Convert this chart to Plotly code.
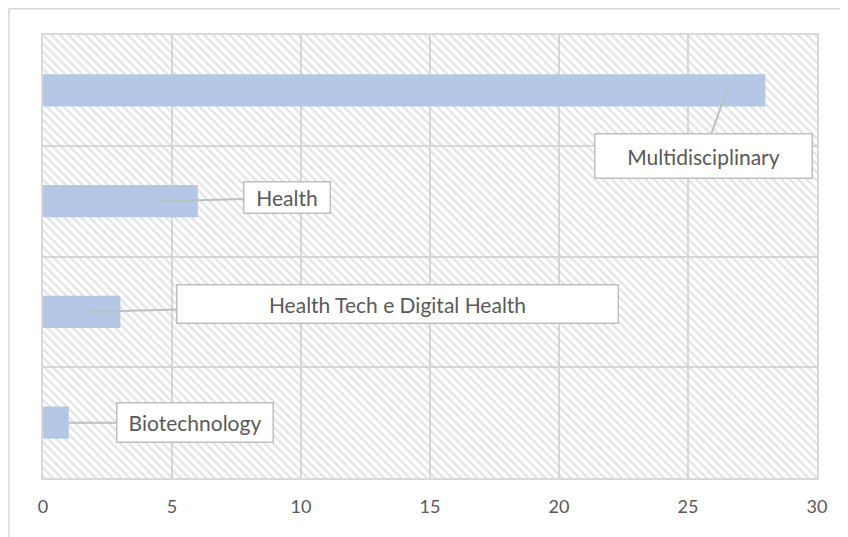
import plotly.graph_objects as go

# Data (bottom to top on the category axis)
categories = ["Biotechnology", "Health Tech e Digital Health", "Health", "Multidisciplinary"]
values = [1, 3, 6, 28]
x_ticks = [0, 5, 10, 15, 20, 25, 30]

# Callout label positions (box centre in data coords) and leader-line targets
label_x = [5.9, 13.75, 9.45, 25.6]
label_y = [0.0, 1.07, 2.03, 2.41]
point_x = [1.0, 1.55, 4.55, 26.5]
point_y = [0.0, 1.0, 2.0, 3.0]
box_w = [153, 438, 83, 214]
box_h = [36, 35, 28, 41]

GRID = "#d9d9d9"
TEXT = "#595959"
BAR = "#b4c7e7"
FONT = "Lato, Open Sans, sans-serif"

fig = go.Figure()

# Hatched plot-area background
fig.add_trace(go.Bar(
    y=categories,
    x=[x_ticks[-1]] * len(categories),
    orientation="h",
    width=1,
    marker=dict(
        color="rgba(0,0,0,0)",
        line=dict(width=0),
        pattern=dict(shape="\\", size=6, solidity=0.4,
                     fgcolor="#c9c9c9", bgcolor="rgba(0,0,0,0)", fillmode="overlay"),
    ),
    hoverinfo="skip",
    showlegend=False,
))

# Actual bars
fig.add_trace(go.Bar(
    y=categories,
    x=values,
    orientation="h",
    width=0.29,
    marker=dict(color=BAR, line=dict(width=0)),
    hovertemplate="<b>%{y}</b><br>%{x}<extra></extra>",
    showlegend=False,
))

for cat, lx, ly, px, py, w, h in zip(categories, label_x, label_y, point_x, point_y, box_w, box_h):
    fig.add_annotation(
        x=px, y=py, xref="x", yref="y",
        ax=lx, ay=ly, axref="x", ayref="y",
        text=cat,
        showarrow=True, arrowhead=0, arrowwidth=2, arrowcolor="#bfbfbf",
        bgcolor="white", bordercolor="#bfbfbf", borderwidth=1.5,
        width=w, height=h,
        font=dict(family=FONT, size=21, color=TEXT),
    )

# Outer chart border (left and top edges)
fig.add_shape(type="line", xref="paper", yref="paper",
              x0=-0.044, x1=-0.044, y0=-0.14, y1=1.059,
              line=dict(color=GRID, width=1.5))
fig.add_shape(type="line", xref="paper", yref="paper",
              x0=-0.044, x1=1.05, y0=1.059, y1=1.059,
              line=dict(color=GRID, width=1.5))

fig.update_layout(
    width=840,
    height=529,
    barmode="overlay",
    plot_bgcolor="white",
    paper_bgcolor="white",
    margin=dict(l=35, r=31, t=27, b=59),
    font=dict(family=FONT, size=16, color=TEXT),
    xaxis=dict(
        range=[0, 30],
        tickvals=x_ticks,
        showgrid=True, gridcolor=GRID, gridwidth=1.5,
        zeroline=False,
        showline=True, linecolor=GRID, linewidth=1.5, mirror=True,
        ticks="", ticklabelstandoff=12,
        tickfont=dict(family=FONT, size=18, color=TEXT),
        fixedrange=True,
    ),
    yaxis=dict(
        range=[-0.5, 3.5],
        categoryorder="array", categoryarray=categories,
        tickson="boundaries",
        showgrid=True, gridcolor=GRID, gridwidth=1.5,
        zeroline=False,
        showline=True, linecolor=GRID, linewidth=1.5, mirror=True,
        showticklabels=False, ticks="",
        fixedrange=True,
    ),
)

fig.write_html("out.html")
